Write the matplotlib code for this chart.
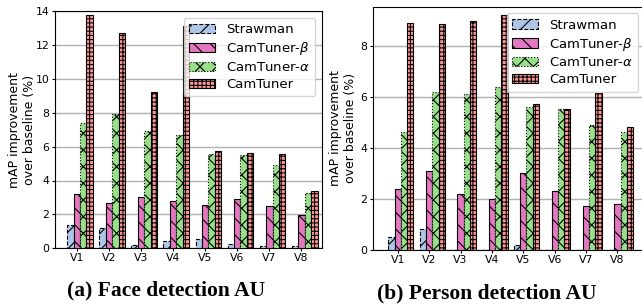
import numpy as np
import matplotlib
matplotlib.use('Agg')
import matplotlib.pyplot as plt

# Data
videos = ['V1', 'V2', 'V3', 'V4', 'V5', 'V6', 'V7', 'V8']
methods = ['Strawman', r'CamTuner-$\beta$', r'CamTuner-$\alpha$', 'CamTuner']

face_strawman = [1.35, 1.2, 0.2, 0.45, 0.55, 0.25, 0.15, 0.15]
face_beta = [3.2, 2.7, 3.0, 2.8, 2.55, 2.9, 2.5, 1.95]
face_alpha = [7.4, 7.9, 6.9, 6.7, 5.55, 5.5, 4.9, 3.25]
face_camtuner = [13.75, 12.7, 9.2, 13.1, 5.75, 5.6, 5.55, 3.4]

person_strawman = [0.5, 0.8, 0.0, 0.0, 0.2, 0.0, 0.0, 0.0]
person_beta = [2.4, 3.1, 2.2, 2.0, 3.0, 2.3, 1.7, 1.8]
person_alpha = [4.6, 6.2, 6.1, 6.4, 5.6, 5.5, 4.9, 4.6]
person_camtuner = [8.9, 8.85, 8.95, 9.2, 5.7, 5.5, 6.15, 4.8]

colors = ['#aec7e8', '#e377c2', '#98df8a', '#ff9896']
hatches = ['//', '\\\\', 'xx', '++++']
edge_styles = ['--', '-', ':', '-']

plt.rcParams['hatch.linewidth'] = 0.8


def draw_panel(ax, series, ylim, xlim, caption, cap_x, label_x):
    x = np.arange(len(videos))
    w = 0.2
    for i, vals in enumerate(series):
        ax.bar(x + (i - 1) * w, vals, w, color=colors[i], edgecolor='black',
               hatch=hatches[i], linestyle=edge_styles[i], linewidth=0.8,
               label=methods[i], zorder=3)
    ax.set_xticks(x)
    ax.set_xticklabels(videos, fontsize=7.8)
    ax.tick_params(axis='y', labelsize=7.8, length=2.5, pad=1.5)
    ax.tick_params(axis='x', length=2, pad=1.5)
    ax.set_xlim(*xlim)
    ax.set_ylim(*ylim)
    ax.grid(axis='y', color='#b0b0b0', linewidth=1.0, zorder=0)
    ax.set_ylabel('mAP improvement\nover baseline (%)', fontsize=9)
    ax.yaxis.set_label_coords(label_x, 0.5)
    ax.legend(loc='upper right', fontsize=9.5, labelspacing=0.3)
    ax.text(cap_x, -0.2, caption, transform=ax.transAxes, ha='center',
            va='baseline', fontsize=15.5, fontweight='bold',
            family='Liberation Serif')


fig = plt.figure(figsize=(6.42, 3.06), dpi=100)
W, H = 642.0, 306.0
ax1 = fig.add_axes([55 / W, (H - 248.3) / H, 267 / W, 237.3 / H])
ax2 = fig.add_axes([373 / W, (H - 249.7) / H, 272 / W, 243.0 / H])

draw_panel(ax1, [face_strawman, face_beta, face_alpha, face_camtuner],
           (0, 14), (-0.68, 7.64), '(a) Face detection AU', 0.415, -0.071)
draw_panel(ax2, [person_strawman, person_beta, person_alpha, person_camtuner],
           (0, 9.53), (-0.79, 7.88), '(b) Person detection AU', 0.42, -0.059)
ax2.set_yticks([0, 2, 4, 6, 8])

fig.savefig('out.png', dpi=100)
